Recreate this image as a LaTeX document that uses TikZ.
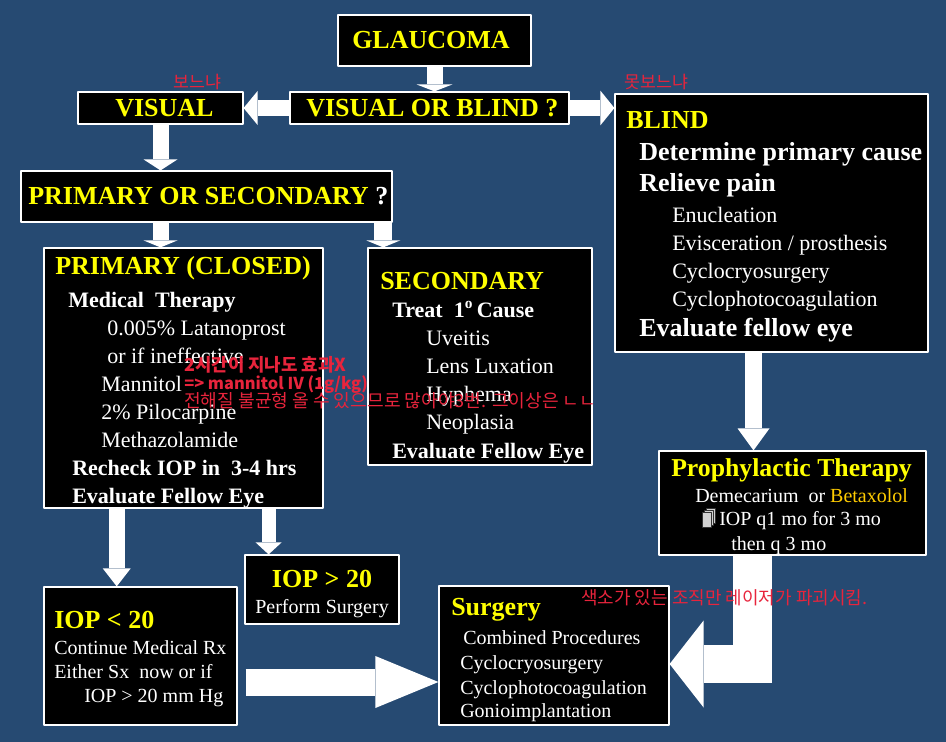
\documentclass[tikz,border=0pt]{standalone}
\usepackage{fontspec}
\setmainfont{Liberation Serif}
\newfontfamily\kr{Noto Sans CJK KR}
\usetikzlibrary{arrows.meta,calc,fit,positioning}
\definecolor{bg}{RGB}{38,74,114}
\definecolor{yel}{RGB}{255,255,0}
\definecolor{ora}{RGB}{255,204,0}
\definecolor{note}{RGB}{232,36,60}
\newcommand\hd{\fontsize{19.5}{21}\selectfont\bfseries\color{yel}}
\newcommand\bd{\fontsize{19.5}{21}\selectfont\bfseries}
\tikzset{
	box/.style={draw=white, fill=black, line width=0.9pt, inner sep=0pt},
	txt/.style={anchor=base west, inner sep=0pt, text=white},
	memo/.style={anchor=base west, inner sep=0pt, text=note, font=\kr\fontsize{13.5}{15}\selectfont},
	blk/.style n args={3}{draw=white, line cap=butt, line width=#1, -{Triangle[length=#3, width=#2, line width=0pt]}}
}
\begin{document}
\begin{tikzpicture}[x=0.75pt, y=-0.75pt, line join=round]
	\useasboundingbox (0,0) rectangle (946,742);
	\fill[bg] (0,0) rectangle (946,742);
	% boxes
	\node[box, fit={(338,15) (531,66)}] (glau) {};
	\node[box, fit={(78,92) (243,124)}] (vis) {};
	\node[box, fit={(290,92) (569,124)}] (vob) {};
	\node[box, fit={(615,94) (928,352)}] (blind) {};
	\node[box, fit={(21,171) (392,222)}] (ps) {};
	\node[box, fit={(44,248) (323,508)}] (prim) {};
	\node[box, fit={(368,248) (592,465)}] (sec) {};
	\node[box, fit={(659,451) (926,555)}] (proph) {};
	\node[box, fit={(44,587) (237,725)}] (iopa) {};
	\node[box, fit={(245,555) (399,624)}] (iopb) {};
	\node[box, fit={(439,586) (669,725)}] (surg) {};
	% texts
	\node[txt] (glautxt) at (352,49) {\hd GLAUCOMA};
	\node[txt] (vistxt) at (115,117) {\hd VISUAL};
	\node[txt] (vobtxt) at (306,117) {\hd VISUAL OR BLIND ?};
	\node[txt] (pstxt) at (28,204) {\hd PRIMARY OR SECONDARY {\color{white}?}};
	\node[txt] (primtxt) at (55,274) {\parbox[t]{260pt}{\fontsize{16.5}{21}\selectfont\leavevmode
			{\hd PRIMARY (CLOSED)}\\[3.75pt]
			\hspace*{9.75pt}\textbf{Medical\ \ Therapy}\\
			\hspace*{39pt}0.005\% Latanoprost\\
			\hspace*{39pt}or if ineffective\\
			\hspace*{34.5pt}Mannitol\\
			\hspace*{34.5pt}2\% Pilocarpine\\
			\hspace*{34.5pt}Methazolamide\\
			\hspace*{12.75pt}\textbf{Recheck IOP in\ \ 3-4 hrs}\\
			\hspace*{12.75pt}\textbf{Evaluate Fellow Eye}}};
	\node[txt] (sectxt) at (380,289) {\parbox[t]{200pt}{\fontsize{16.5}{21}\selectfont\leavevmode
			{\hd SECONDARY}\\
			\hspace*{9pt}\textbf{Treat\ \ 1\textsuperscript{o}\,Cause}\\
			\hspace*{34.5pt}Uveitis\\
			\hspace*{34.5pt}Lens Luxation\\
			\hspace*{34.5pt}Hyphema\\
			\hspace*{34.5pt}Neoplasia\\[0.75pt]
			\hspace*{9pt}\textbf{Evaluate Fellow Eye}}};
	\node[txt] (blindtxt) at (626,128) {\parbox[t]{260pt}{\fontsize{16.5}{21}\selectfont\leavevmode
			{\hd BLIND}\\[3pt]
			\hspace*{9.75pt}{\bd Determine primary cause}\\[2.25pt]
			\hspace*{9.75pt}{\bd Relieve pain}\\[2.25pt]
			\hspace*{34.5pt}Enucleation\\
			\hspace*{34.5pt}Evisceration / prosthesis\\
			\hspace*{34.5pt}Cyclocryosurgery\\
			\hspace*{34.5pt}Cyclophotocoagulation\\[1.5pt]
			\hspace*{9.75pt}{\bd Evaluate fellow eye}}};
	\node[txt] (prophtxt) at (671,476) {\parbox[t]{220pt}{\fontsize{15}{18}\selectfont\leavevmode
			{\fontsize{19.3}{21}\selectfont\bfseries\color{yel}Prophylactic Therapy}\\[1.5pt]
			\hspace*{18pt}Demecarium\ \ or {\color{ora}Betaxolol}\\[-0.75pt]
			\hspace*{36pt}IOP q1 mo for 3 mo\\[0.75pt]
			\hspace*{45pt}then q 3 mo}};
	\node[txt] (iopatxt) at (54,628) {\parbox[t]{160pt}{\fontsize{15}{18}\selectfont\leavevmode
			{\hd IOP < 20}\\[1.5pt]
			Continue Medical Rx\\
			Either Sx\ \ now or if\\
			\hspace*{22.5pt}IOP > 20 mm Hg}};
	\node[txt, anchor=base] (iopbtxt) at (322,587) {\parbox[t]{140pt}{\centering\fontsize{15}{18}\selectfont\leavevmode
			{\hd IOP > 20}\\[1.5pt]
			Perform Surgery}};
	\node[txt] (surgtxt) at (451,615) {\parbox[t]{200pt}{\fontsize{15}{18.75}\selectfont\leavevmode
			{\hd Surgery}\\[3pt]
			\hspace*{9pt}Combined Procedures\\
			\hspace*{6.75pt}Cyclocryosurgery\\
			\hspace*{6.75pt}Cyclophotocoagulation\\[-1.5pt]
			\hspace*{6.75pt}Gonioimplantation}};
	% icon before IOP q1
	\foreach \d in {4,2,0}{
		\draw[fill=gray!35, draw=black!80, line width=0.4pt] (702+\d,527-\d) rectangle (711+\d,512-\d);}
	% block arrows
	\coordinate (secin) at ([xshift=-7pt]ps.south east);
	\coordinate (blindout) at ([xshift=-13.5pt]blind.south);
	\coordinate (primouta) at ([xshift=55pt]prim.south west);
	\coordinate (primoutb) at ([xshift=-41.25pt]prim.south east);
	\coordinate (iopout) at ($(iopa.east)+(8,26)$);
	\coordinate (prophout) at ($(proph.south)+(-40,0)$);
	\coordinate (surgin) at ($(surg.east)+(0,8.5)$);
	\draw[blk={12pt}{27pt}{5.25pt}] (glau.south) -- (glau.south |- vob.north);
	\draw[blk={12pt}{25.5pt}{10.5pt}] (vob.west) -- (vis.east);
	\draw[blk={12pt}{26pt}{10.5pt}] (vob.east) -- (vob.east -| blind.west);
	\draw[blk={12pt}{25.5pt}{8.25pt}] (vis.south) -- (vis.south |- ps.north);
	\draw[blk={12pt}{25.5pt}{5.25pt}] (vis.south |- ps.south) -- (vis.south |- prim.north);
	\draw[blk={13.5pt}{25.5pt}{5.25pt}] (secin) -- (secin |- sec.north);
	\draw[blk={12.75pt}{24pt}{16.5pt}] (blindout) -- (blindout |- proph.north);
	\draw[blk={12pt}{21pt}{13.5pt}] (primouta) -- (primouta |- iopa.north);
	\draw[blk={10.5pt}{19.5pt}{9pt}] (primoutb) -- (primoutb |- iopb.north);
	\draw[blk={20.25pt}{39pt}{47.25pt}] (iopout) -- (iopout -| surg.west);
	\draw[blk={29pt}{65.25pt}{25.5pt}, line join=miter] (prophout) |- (surgin);
	% red notes
	\node[memo, font=\kr\fontsize{13}{14}\selectfont] (memovis) at (173,89) {보느냐};
	\node[memo, font=\kr\fontsize{13}{14}\selectfont] (memoblind) at (624,89) {못보느냐};
	\node[memo, font=\kr\bfseries\fontsize{13.4}{14}\selectfont] (memoa) at (184,371) {2시간이 지나도 효과X};
	\node[memo, font=\kr\bfseries\fontsize{12.3}{14}\selectfont] (memob) at (184,389) {=> mannitol IV (1g/kg)};
	\node[memo, font=\kr\fontsize{13.6}{15}\selectfont] (memoc) at (184,407) {전해질 불균형 올 수 있으므로 많아야3번. 그이상은 ㄴㄴ};
	\node[memo] (memod) at (581,604) {색소가 있는 조직만 레이저가 파괴시킴.};
\end{tikzpicture}
\end{document}
